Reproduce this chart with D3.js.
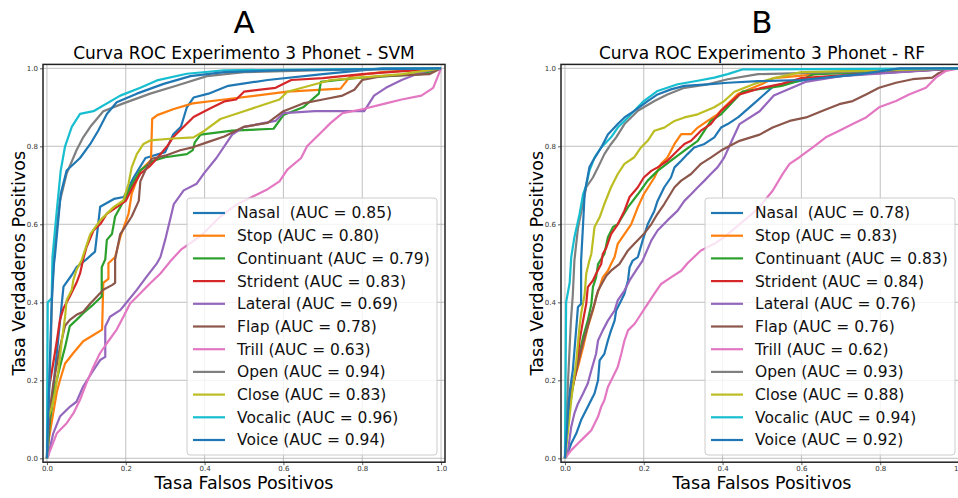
<!DOCTYPE html>
<html>
<head>
<meta charset="utf-8">
<script src="https://cdn.jsdelivr.net/npm/d3@7"></script>
<style>
  body { margin: 0; background: #fff; }
  svg { display: block; font-family: "DejaVu Sans", sans-serif; }
</style>
</head>
<body>
<div id="chart"></div>
<script>
// ROC curves, experiment 3 Phonet: SVM (A) vs RF (B)
const classes = ["Nasal ", "Stop", "Continuant", "Strident", "Lateral", "Flap", "Trill", "Open", "Close", "Vocalic", "Voice"];
const colors = ["#1f77b4", "#ff7f0e", "#2ca02c", "#d62728", "#9467bd", "#8c564b", "#e377c2", "#7f7f7f", "#bcbd22", "#17becf", "#1f77b4"];
const aucSVM = ["0.85", "0.80", "0.79", "0.83", "0.69", "0.78", "0.63", "0.94", "0.83", "0.96", "0.94"];
const aucRF = ["0.78", "0.83", "0.83", "0.84", "0.76", "0.76", "0.62", "0.93", "0.88", "0.94", "0.92"];
const ticks = [0, 0.2, 0.4, 0.6, 0.8, 1.0];

// [fpr, tpr] points
const svmNasal = [[0,0],[0.008,0.1],[0.018,0.2],[0.028,0.3],[0.037,0.39],[0.042,0.44],[0.063,0.47],[0.075,0.49],[0.1,0.51],[0.122,0.53],[0.13,0.6],[0.135,0.645],[0.17,0.665],[0.195,0.67],[0.22,0.72],[0.25,0.77],[0.3,0.785],[0.32,0.83],[0.34,0.85],[0.355,0.9],[0.372,0.925],[0.41,0.935],[0.46,0.955],[0.56,0.97],[0.7,0.985],[0.85,1],[1,1]];
const svmStop = [[0,0],[0.005,0.05],[0.01,0.08],[0.025,0.17],[0.033,0.2],[0.046,0.243],[0.067,0.27],[0.092,0.3],[0.118,0.316],[0.14,0.33],[0.143,0.45],[0.156,0.46],[0.156,0.5],[0.173,0.516],[0.186,0.567],[0.207,0.627],[0.215,0.678],[0.237,0.738],[0.264,0.765],[0.267,0.87],[0.28,0.88],[0.32,0.895],[0.37,0.91],[0.45,0.92],[0.61,0.94],[0.745,0.948],[0.77,0.98],[0.85,0.99],[1,1]];
const svmContinuant = [[0,0],[0.008,0.1],[0.02,0.18],[0.033,0.235],[0.046,0.285],[0.058,0.339],[0.075,0.355],[0.092,0.372],[0.113,0.39],[0.139,0.415],[0.139,0.49],[0.148,0.51],[0.152,0.56],[0.165,0.575],[0.173,0.62],[0.186,0.644],[0.2,0.67],[0.22,0.71],[0.237,0.738],[0.27,0.763],[0.3,0.772],[0.355,0.78],[0.37,0.79],[0.375,0.81],[0.39,0.83],[0.47,0.84],[0.575,0.845],[0.6,0.88],[0.65,0.9],[0.69,0.935],[0.695,0.965],[0.78,0.975],[0.95,0.985],[1,1]];
const svmStrident = [[0,0],[0.005,0.18],[0.012,0.22],[0.025,0.3],[0.033,0.355],[0.042,0.385],[0.058,0.415],[0.075,0.45],[0.084,0.474],[0.092,0.51],[0.1,0.54],[0.118,0.584],[0.135,0.6],[0.152,0.627],[0.177,0.644],[0.2,0.66],[0.22,0.7],[0.237,0.73],[0.262,0.75],[0.28,0.77],[0.305,0.8],[0.32,0.823],[0.347,0.85],[0.372,0.875],[0.4,0.89],[0.42,0.9],[0.45,0.915],[0.48,0.92],[0.5,0.94],[0.58,0.95],[0.62,0.97],[0.7,0.975],[0.8,0.985],[1,1]];
const svmLateral = [[0,0],[0.003,0.005],[0.016,0.064],[0.033,0.107],[0.058,0.132],[0.075,0.145],[0.092,0.184],[0.118,0.226],[0.135,0.252],[0.148,0.26],[0.148,0.338],[0.16,0.363],[0.186,0.38],[0.2,0.397],[0.228,0.432],[0.253,0.466],[0.279,0.5],[0.288,0.516],[0.3,0.56],[0.322,0.652],[0.347,0.687],[0.38,0.704],[0.398,0.73],[0.43,0.77],[0.47,0.83],[0.5,0.85],[0.58,0.865],[0.6,0.885],[0.68,0.89],[0.805,0.89],[0.83,0.93],[0.86,0.95],[0.9,0.97],[0.95,0.99],[1,1]];
const svmFlap = [[0,0],[0.008,0.13],[0.016,0.19],[0.033,0.285],[0.046,0.34],[0.058,0.355],[0.075,0.368],[0.092,0.376],[0.11,0.397],[0.127,0.415],[0.143,0.432],[0.165,0.444],[0.173,0.45],[0.173,0.51],[0.186,0.575],[0.198,0.593],[0.215,0.62],[0.233,0.66],[0.237,0.71],[0.253,0.746],[0.266,0.768],[0.3,0.776],[0.338,0.79],[0.372,0.798],[0.406,0.81],[0.45,0.825],[0.5,0.85],[0.56,0.86],[0.6,0.89],[0.65,0.91],[0.7,0.92],[0.75,0.93],[0.78,0.945],[0.8,0.97],[0.85,0.98],[0.97,0.985],[1,1]];
const svmTrill = [[0,0],[0.012,0.03],[0.025,0.064],[0.05,0.09],[0.067,0.115],[0.084,0.15],[0.1,0.192],[0.118,0.235],[0.135,0.27],[0.152,0.295],[0.177,0.33],[0.194,0.363],[0.211,0.397],[0.237,0.423],[0.262,0.449],[0.288,0.474],[0.313,0.505],[0.34,0.535],[0.39,0.57],[0.44,0.62],[0.48,0.65],[0.52,0.67],[0.56,0.69],[0.59,0.71],[0.61,0.74],[0.645,0.77],[0.66,0.8],[0.7,0.84],[0.72,0.86],[0.75,0.885],[0.8,0.895],[0.86,0.91],[0.9,0.92],[0.95,0.93],[0.98,0.95],[1,1]];
const svmOpen = [[0,0],[0.005,0.15],[0.01,0.3],[0.014,0.45],[0.02,0.55],[0.033,0.66],[0.05,0.73],[0.075,0.79],[0.092,0.823],[0.11,0.85],[0.143,0.89],[0.194,0.91],[0.262,0.935],[0.33,0.956],[0.406,0.98],[0.5,0.99],[0.7,0.995],[1,1]];
const svmClose = [[0,0],[0.002,0.1],[0.012,0.13],[0.02,0.166],[0.029,0.226],[0.037,0.295],[0.046,0.363],[0.05,0.406],[0.063,0.432],[0.067,0.457],[0.075,0.483],[0.088,0.508],[0.11,0.575],[0.135,0.61],[0.169,0.644],[0.194,0.661],[0.207,0.704],[0.215,0.746],[0.228,0.78],[0.245,0.806],[0.262,0.815],[0.32,0.82],[0.372,0.823],[0.4,0.84],[0.44,0.87],[0.5,0.89],[0.59,0.92],[0.61,0.94],[0.72,0.97],[0.78,0.975],[0.9,0.985],[1,1]];
const svmVocalic = [[0,0],[0.002,0.4],[0.012,0.41],[0.014,0.516],[0.025,0.635],[0.035,0.738],[0.046,0.8],[0.063,0.85],[0.084,0.883],[0.118,0.89],[0.186,0.93],[0.237,0.95],[0.279,0.969],[0.355,0.986],[0.45,0.995],[1,1]];
const svmVoice = [[0,0],[0.006,0.2],[0.012,0.4],[0.018,0.5],[0.02,0.516],[0.035,0.678],[0.05,0.738],[0.084,0.77],[0.11,0.806],[0.13,0.84],[0.152,0.883],[0.177,0.913],[0.228,0.935],[0.296,0.96],[0.364,0.98],[0.45,0.99],[0.6,0.995],[1,1]];

const rfNasal = [[0,0],[0.003,0.004],[0.016,0.038],[0.029,0.064],[0.041,0.098],[0.058,0.132],[0.075,0.166],[0.084,0.2],[0.088,0.251],[0.1,0.268],[0.109,0.302],[0.117,0.328],[0.126,0.353],[0.13,0.379],[0.143,0.405],[0.151,0.422],[0.16,0.456],[0.164,0.49],[0.172,0.507],[0.185,0.516],[0.197,0.558],[0.21,0.6],[0.227,0.635],[0.235,0.66],[0.252,0.695],[0.269,0.72],[0.278,0.746],[0.295,0.763],[0.311,0.78],[0.328,0.797],[0.354,0.806],[0.379,0.823],[0.396,0.848],[0.413,0.857],[0.44,0.875],[0.48,0.91],[0.53,0.955],[0.61,0.97],[0.75,0.985],[1,1]];
const rfStop = [[0,0],[0.008,0.14],[0.02,0.19],[0.033,0.234],[0.046,0.285],[0.058,0.337],[0.071,0.379],[0.079,0.413],[0.088,0.439],[0.096,0.464],[0.109,0.481],[0.117,0.498],[0.126,0.516],[0.134,0.55],[0.151,0.575],[0.168,0.6],[0.185,0.644],[0.2,0.677],[0.227,0.72],[0.244,0.755],[0.26,0.771],[0.278,0.806],[0.295,0.831],[0.32,0.831],[0.337,0.848],[0.362,0.865],[0.387,0.882],[0.404,0.9],[0.44,0.935],[0.5,0.96],[0.53,0.975],[0.7,0.99],[1,1]];
const rfContinuant = [[0,0],[0.008,0.107],[0.02,0.183],[0.033,0.251],[0.046,0.311],[0.058,0.353],[0.067,0.396],[0.071,0.439],[0.079,0.464],[0.084,0.498],[0.1,0.524],[0.109,0.567],[0.122,0.593],[0.134,0.6],[0.16,0.644],[0.185,0.677],[0.21,0.712],[0.235,0.737],[0.269,0.763],[0.303,0.789],[0.337,0.814],[0.354,0.84],[0.37,0.865],[0.396,0.882],[0.413,0.9],[0.45,0.94],[0.55,0.955],[0.6,0.97],[0.63,0.985],[0.8,0.99],[1,1]];
const rfStrident = [[0,0],[0.008,0.123],[0.016,0.166],[0.029,0.226],[0.037,0.302],[0.046,0.353],[0.054,0.396],[0.058,0.439],[0.071,0.456],[0.079,0.473],[0.092,0.498],[0.096,0.524],[0.105,0.54],[0.117,0.575],[0.134,0.6],[0.151,0.635],[0.164,0.67],[0.185,0.695],[0.2,0.72],[0.219,0.737],[0.235,0.746],[0.26,0.763],[0.286,0.789],[0.303,0.806],[0.32,0.814],[0.345,0.84],[0.37,0.857],[0.396,0.891],[0.443,0.933],[0.5,0.95],[0.55,0.96],[0.6,0.975],[0.75,0.985],[1,1]];
const rfLateral = [[0,0],[0.008,0.021],[0.016,0.081],[0.024,0.115],[0.033,0.14],[0.046,0.166],[0.058,0.192],[0.067,0.226],[0.079,0.268],[0.084,0.302],[0.096,0.328],[0.109,0.353],[0.126,0.379],[0.134,0.405],[0.151,0.43],[0.164,0.456],[0.18,0.481],[0.197,0.507],[0.219,0.558],[0.235,0.584],[0.26,0.61],[0.286,0.635],[0.303,0.66],[0.32,0.677],[0.337,0.695],[0.354,0.712],[0.37,0.729],[0.387,0.746],[0.404,0.771],[0.426,0.82],[0.443,0.857],[0.494,0.89],[0.53,0.93],[0.61,0.965],[0.7,0.98],[0.85,0.99],[1,1]];
const rfFlap = [[0,0],[0.008,0.132],[0.016,0.175],[0.024,0.209],[0.033,0.243],[0.041,0.277],[0.05,0.311],[0.062,0.353],[0.075,0.396],[0.084,0.43],[0.096,0.452],[0.105,0.468],[0.117,0.481],[0.138,0.498],[0.16,0.533],[0.176,0.55],[0.2,0.575],[0.219,0.6],[0.235,0.627],[0.252,0.652],[0.278,0.695],[0.295,0.712],[0.32,0.729],[0.345,0.755],[0.37,0.771],[0.396,0.789],[0.443,0.814],[0.494,0.83],[0.527,0.848],[0.57,0.865],[0.612,0.874],[0.654,0.891],[0.696,0.908],[0.73,0.916],[0.764,0.933],[0.797,0.95],[0.84,0.963],[0.882,0.972],[0.932,0.976],[0.949,0.988],[0.975,0.997],[1,1]];
const rfTrill = [[0,0],[0.003,0.004],[0.016,0.021],[0.033,0.038],[0.05,0.055],[0.067,0.072],[0.084,0.107],[0.092,0.132],[0.1,0.149],[0.109,0.183],[0.122,0.209],[0.134,0.234],[0.143,0.268],[0.151,0.302],[0.16,0.328],[0.177,0.345],[0.193,0.37],[0.21,0.396],[0.227,0.422],[0.244,0.447],[0.269,0.464],[0.295,0.481],[0.311,0.5],[0.345,0.533],[0.379,0.55],[0.404,0.567],[0.443,0.6],[0.49,0.64],[0.527,0.686],[0.553,0.73],[0.57,0.755],[0.595,0.772],[0.629,0.797],[0.662,0.823],[0.696,0.84],[0.73,0.857],[0.764,0.874],[0.797,0.9],[0.84,0.916],[0.873,0.933],[0.916,0.95],[0.941,0.976],[0.966,0.993],[1,1]];
const rfOpen = [[0,0],[0.008,0.2],[0.015,0.35],[0.02,0.42],[0.024,0.507],[0.033,0.59],[0.045,0.65],[0.054,0.695],[0.071,0.72],[0.084,0.746],[0.1,0.78],[0.117,0.806],[0.13,0.823],[0.151,0.857],[0.185,0.891],[0.227,0.916],[0.26,0.933],[0.303,0.95],[0.362,0.959],[0.413,0.972],[0.49,0.985],[0.7,0.99],[1,1]];
const rfClose = [[0,0],[0.008,0.072],[0.016,0.149],[0.029,0.251],[0.037,0.337],[0.041,0.37],[0.05,0.42],[0.054,0.473],[0.062,0.507],[0.067,0.524],[0.075,0.593],[0.088,0.618],[0.1,0.652],[0.117,0.695],[0.134,0.729],[0.151,0.755],[0.176,0.772],[0.193,0.797],[0.21,0.814],[0.227,0.84],[0.252,0.848],[0.278,0.865],[0.303,0.874],[0.337,0.882],[0.379,0.9],[0.404,0.916],[0.43,0.94],[0.48,0.96],[0.53,0.975],[0.6,0.99],[1,1]];
const rfVocalic = [[0,0],[0.003,0.4],[0.012,0.45],[0.016,0.516],[0.024,0.567],[0.037,0.626],[0.046,0.677],[0.054,0.7],[0.062,0.737],[0.075,0.771],[0.092,0.797],[0.117,0.823],[0.134,0.848],[0.151,0.865],[0.176,0.891],[0.2,0.916],[0.235,0.942],[0.286,0.959],[0.337,0.968],[0.379,0.976],[0.413,0.985],[0.45,0.997],[1,1]];
const rfVoice = [[0,0],[0.008,0.12],[0.012,0.17],[0.02,0.226],[0.029,0.337],[0.033,0.388],[0.041,0.396],[0.041,0.507],[0.046,0.6],[0.05,0.68],[0.062,0.746],[0.071,0.763],[0.092,0.797],[0.109,0.83],[0.134,0.857],[0.151,0.874],[0.176,0.891],[0.21,0.916],[0.235,0.933],[0.269,0.946],[0.303,0.955],[0.362,0.959],[0.413,0.963],[0.49,0.967],[0.6,0.97],[0.75,0.985],[0.85,1],[1,1]];

const svmCurves = [svmNasal, svmStop, svmContinuant, svmStrident, svmLateral, svmFlap, svmTrill, svmOpen, svmClose, svmVocalic, svmVoice];
const rfCurves = [rfNasal, rfStop, rfContinuant, rfStrident, rfLateral, rfFlap, rfTrill, rfOpen, rfClose, rfVocalic, rfVoice];

const width = 958, height = 498;
const svg = d3.select("#chart").append("svg")
    .attr("width", width)
    .attr("height", height);

function panel(x0, letter, title, curves, aucs) {
  // axes box spans data -0.01..1.01
  const x = d3.scaleLinear().domain([-0.01, 1.01]).range([x0, x0 + 402]);
  const y = d3.scaleLinear().domain([-0.01, 1.01]).range([462.2, 64.4]);
  const g = svg.append("g");

  // grid
  g.selectAll(".gx").data(ticks).enter().append("line")
    .attr("x1", d => x(d)).attr("x2", d => x(d))
    .attr("y1", y(-0.01)).attr("y2", y(1.01))
    .attr("stroke", "#b0b0b0").attr("stroke-width", 0.8);
  g.selectAll(".gy").data(ticks).enter().append("line")
    .attr("x1", x(-0.01)).attr("x2", x(1.01))
    .attr("y1", d => y(d)).attr("y2", d => y(d))
    .attr("stroke", "#b0b0b0").attr("stroke-width", 0.8);

  // curves
  const line = d3.line().x(d => x(d[0])).y(d => y(d[1]));
  curves.forEach((c, i) => {
    g.append("path")
      .datum(c)
      .attr("fill", "none")
      .attr("stroke", colors[i])
      .attr("stroke-width", 2.2)
      .attr("stroke-linejoin", "round")
      .attr("d", line);
  });

  // axes
  const xAxis = g.append("g").attr("transform", `translate(0,${y(-0.01)})`)
    .call(d3.axisBottom(x).tickValues(ticks).tickFormat(d3.format(".1f")).tickSize(3).tickPadding(1));
  const yAxis = g.append("g").attr("transform", `translate(${x(-0.01)},0)`)
    .call(d3.axisLeft(y).tickValues(ticks).tickFormat(d3.format(".1f")).tickSize(3).tickPadding(2));
  [xAxis, yAxis].forEach(a => {
    a.select(".domain").remove();
    a.selectAll("text").attr("font-size", 7).attr("font-family", "DejaVu Sans").attr("fill", "#333");
    a.selectAll("line").attr("stroke", "#333").attr("stroke-width", 0.8);
  });
  g.append("rect")
    .attr("x", x(-0.01)).attr("y", y(1.01))
    .attr("width", x(1.01) - x(-0.01)).attr("height", y(-0.01) - y(1.01))
    .attr("fill", "none").attr("stroke", "#222").attr("stroke-width", 1.5);

  // titles
  const cx = (x(-0.01) + x(1.01)) / 2;
  svg.append("text").attr("x", cx).attr("y", 33).attr("text-anchor", "middle")
    .attr("font-size", 31).text(letter);
  svg.append("text").attr("x", cx).attr("y", 59).attr("text-anchor", "middle")
    .attr("font-size", 17).text(title);
  svg.append("text").attr("x", cx).attr("y", 489).attr("text-anchor", "middle")
    .attr("font-size", 17.5).text("Tasa Falsos Positivos");
  svg.append("text")
    .attr("transform", `translate(${x0 - 18},${(y(0) + y(1)) / 2}) rotate(-90)`)
    .attr("text-anchor", "middle")
    .attr("font-size", 17.5).text("Tasa Verdaderos Positivos");

  // legend
  const lx = x(1.01) - 258, ly = 198;
  g.append("rect")
    .attr("x", lx).attr("y", ly).attr("width", 250).attr("height", 257)
    .attr("rx", 3)
    .attr("fill", "white").attr("fill-opacity", 0.8)
    .attr("stroke", "#cccccc").attr("stroke-width", 1);
  const items = g.selectAll(".leg").data(classes).enter().append("g")
    .attr("transform", (d, i) => `translate(${lx},${ly + 15 + i * 22.7})`);
  items.append("line")
    .attr("x1", 6).attr("x2", 38).attr("y1", 0).attr("y2", 0)
    .attr("stroke", (d, i) => colors[i]).attr("stroke-width", 2.2);
  items.append("text")
    .attr("x", 50).attr("y", 0).attr("dy", "0.35em")
    .attr("font-size", 15.5).attr("fill", "#111")
    .attr("xml:space", "preserve")
    .style("white-space", "pre")
    .text((d, i) => `${d} (AUC = ${aucs[i]})`);
}

panel(43, "A", "Curva ROC Experimento 3 Phonet - SVM", svmCurves, aucSVM);
panel(561, "B", "Curva ROC Experimento 3 Phonet - RF", rfCurves, aucRF);
</script>
</body>
</html>
